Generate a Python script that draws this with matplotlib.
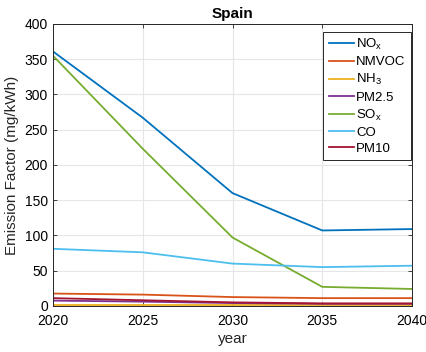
import matplotlib
matplotlib.use("Agg")
import matplotlib.pyplot as plt
import numpy as np

plt.rcParams["font.family"] = ["Liberation Sans", "DejaVu Sans"]
plt.rcParams["mathtext.default"] = "regular"

# emission factors per pollutant (mg/kWh)
years = [2020, 2025, 2030, 2035, 2040]
nox = [361, 267, 160, 107, 109]
nmvoc = [17.5, 16, 12.5, 11, 11]
nh3 = [1, 1, 1, 1, 1]
pm25 = [7.5, 6, 4, 3, 3]
sox = [355, 223, 97, 27, 24]
co = [81, 76, 60, 55, 57]
pm10 = [11, 8, 5, 3.5, 3.5]

series = [
    ("NO$_x$", nox, (0, 0.447, 0.741)),
    ("NMVOC", nmvoc, (0.85, 0.325, 0.098)),
    ("NH$_3$", nh3, (0.929, 0.694, 0.125)),
    ("PM2.5", pm25, (0.494, 0.184, 0.556)),
    ("SO$_x$", sox, (0.466, 0.674, 0.188)),
    ("CO", co, (0.301, 0.745, 0.933)),
    ("PM10", pm10, (0.635, 0.078, 0.184)),
]

fig = plt.figure(figsize=(4.27, 3.52), dpi=100)
ax = fig.add_axes([0.124, 0.131, 0.841, 0.801])

for name, vals, col in series:
    ax.plot(years, vals, color=col, lw=1.3, label=name)

ax.set_xlim(2020, 2040)
ax.set_ylim(0, 400)
ax.set_xticks(np.arange(2020, 2041, 5))
ax.set_yticks(np.arange(0, 401, 50))
ax.grid(True, color="#e6e6e6", lw=0.8)
ax.set_axisbelow(True)
ax.tick_params(direction="in", top=True, right=True, labelsize=10,
               color="#262626", length=3, width=0.6)
ax.tick_params(axis="x", pad=6)
for s in ax.spines.values():
    s.set_color("#262626")
    s.set_linewidth(0.7)

ax.set_xlabel("year", fontsize=11, color="#262626", labelpad=3)
ax.set_ylabel("Emission Factor (mg/kWh)", fontsize=11, color="#262626")
ax.set_title("Spain", fontsize=11, fontweight="bold", pad=4)

leg = ax.legend(loc="upper right", bbox_to_anchor=(0.997, 0.972),
                fontsize=9.5, fancybox=False, edgecolor="#262626",
                framealpha=1, handlelength=1.9, labelspacing=0.3,
                borderaxespad=0, handletextpad=0.2, borderpad=0.4)
leg.get_frame().set_linewidth(0.7)

fig.savefig("out.png", dpi=100)
